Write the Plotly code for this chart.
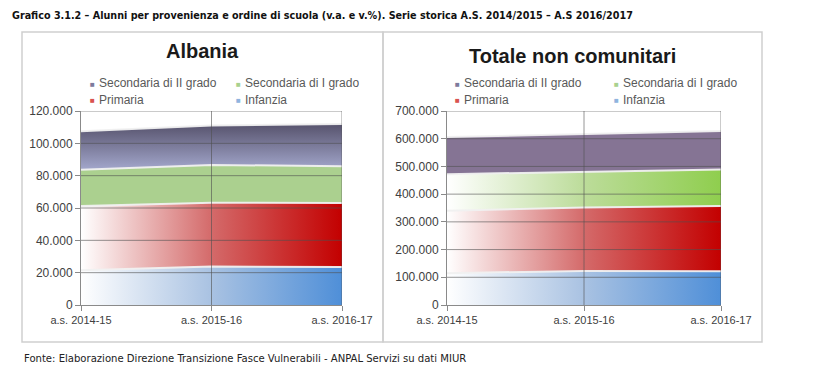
import plotly.graph_objects as go

W, H = 816, 375

categories = ["a.s. 2014-15", "a.s. 2015-16", "a.s. 2016-17"]
series_names = ["Infanzia", "Primaria", "Secondaria di I grado", "Secondaria di II grado"]

albania_infanzia = [21500, 23800, 23500]
albania_primaria = [39700, 39500, 39600]
albania_sec1 = [22400, 23300, 22800]
albania_sec2 = [23900, 24500, 26000]

noncom_infanzia = [115000, 123000, 122000]
noncom_primaria = [225000, 229000, 235000]
noncom_sec1 = [132000, 128000, 132000]
noncom_sec2 = [134000, 136000, 139000]

albania_yticks = [0, 20000, 40000, 60000, 80000, 100000, 120000]
noncom_yticks = [0, 100000, 200000, 300000, 400000, 500000, 600000, 700000]

panel_titles = ["Albania", "Totale non comunitari"]
main_title = ("Grafico 3.1.2 \u2013 Alunni per provenienza e ordine di scuola (v.a. e v.%). "
              "Serie storica A.S. 2014/2015 \u2013 A.S 2016/2017")
source_text = "Fonte: Elaborazione Direzione Transizione Fasce Vulnerabili - ANPAL Servizi su dati MIUR"

legend_order = ["Secondaria di II grado", "Secondaria di I grado", "Primaria", "Infanzia"]
legend_colors = {"Secondaria di II grado": "#7d7b9c", "Secondaria di I grado": "#a9d18e",
                 "Primaria": "#d9534f", "Infanzia": "#8fb4de"}

def px(x):
    return x / W

def py(y):
    return 1 - y / H

xs = list(range(len(categories)))

def hgrad(c_mid, c_end):
    return dict(type="horizontal", colorscale=[[0, "#ffffff"], [0.5, c_mid], [1, c_end]])

fills = {
    "x": {
        "Infanzia": hgrad("#a9c2e2", "#4f8fd8"),
        "Primaria": hgrad("#d46a6a", "#c30000"),
        "Secondaria di I grado": None,
        "Secondaria di II grado": dict(type="vertical", colorscale=[[0, "#a3a7cc"], [1, "#57536d"]]),
    },
    "x2": {
        "Infanzia": hgrad("#a9c2e2", "#4f8fd8"),
        "Primaria": hgrad("#d46a6a", "#c30000"),
        "Secondaria di I grado": hgrad("#bcdc9a", "#8fce4e"),
        "Secondaria di II grado": None,
    },
}
solid = {"x": {"Secondaria di I grado": "#abd08f"}, "x2": {"Secondaria di II grado": "#857494"}}

data_sets = {
    "x": [albania_infanzia, albania_primaria, albania_sec1, albania_sec2],
    "x2": [noncom_infanzia, noncom_primaria, noncom_sec1, noncom_sec2],
}

fig = go.Figure()
for xa, ya, grp in [("x", "y", "a"), ("x2", "y2", "b")]:
    for name, vals in zip(series_names, data_sets[xa]):
        kw = {}
        g = fills[xa][name]
        if g is not None:
            kw["fillgradient"] = g
        else:
            kw["fillcolor"] = solid[xa][name]
        fig.add_trace(go.Scatter(
            x=xs, y=vals, name=name, mode="lines", stackgroup=grp,
            line=dict(color="rgba(240,240,240,0.95)", width=2),
            xaxis=xa, yaxis=ya, showlegend=False, **kw))

L1, R1, L2, R2 = 81, 342, 447, 721
TOP, BOT = 111, 305

xfont = dict(family="Liberation Sans, Arial, sans-serif", size=11, color="#404040")
yfont = dict(family="Liberation Sans, Arial, sans-serif", size=12, color="#404040")
common_x = dict(tickvals=xs, ticktext=categories, range=[0, 2], showgrid=False,
                showline=True, linecolor="#8a8a8a", ticks="outside", ticklen=5,
                tickcolor="#8a8a8a", tickfont=xfont, zeroline=False, fixedrange=True,
                automargin=False)
common_y = dict(showgrid=False, showline=True, linecolor="#8a8a8a", ticks="outside",
                ticklen=5, tickcolor="#8a8a8a", tickfont=yfont, zeroline=False,
                tickformat=",d", fixedrange=True, automargin=False)

fig.update_layout(
    width=W, height=H, autosize=False,
    margin=dict(l=0, r=0, t=0, b=0, pad=0, autoexpand=False),
    paper_bgcolor="white", plot_bgcolor="white", separators=",.",
    xaxis=dict(domain=[px(L1), px(R1)], anchor="y", **common_x),
    yaxis=dict(domain=[py(BOT), py(TOP)], anchor="x", range=[0, 120000],
               tickvals=albania_yticks, **common_y),
    xaxis2=dict(domain=[px(L2), px(R2)], anchor="y2", **common_x),
    yaxis2=dict(domain=[py(BOT), py(TOP)], anchor="x2", range=[0, 700000],
                tickvals=noncom_yticks, **common_y),
    showlegend=False,
)

shapes = []
grid_col = "rgba(80,80,80,0.6)"
for xa, ya, ticks in [("x", "y", albania_yticks), ("x2", "y2", noncom_yticks)]:
    for t in ticks[1:]:
        shapes.append(dict(type="line", xref=f"{xa} domain", yref=ya, x0=0, x1=1, y0=t, y1=t,
                           line=dict(color=grid_col, width=1), layer="above"))
    for i in xs[1:]:
        shapes.append(dict(type="line", xref=xa, yref=f"{ya} domain", x0=i, x1=i, y0=0, y1=1,
                           line=dict(color=grid_col, width=1), layer="above"))

box_col = "#cfcfcf"
for x0, x1 in [(22, 383), (383, 762)]:
    shapes.append(dict(type="rect", xref="paper", yref="paper", x0=px(x0), x1=px(x1),
                       y0=py(342), y1=py(32), line=dict(color=box_col, width=1.5), layer="below"))
fig.update_layout(shapes=shapes)

narrow = "Liberation Sans Narrow, Arial Narrow, DejaVu Sans Condensed, sans-serif"
ann = []
ann.append(dict(text=f"<b>{main_title}</b>", x=px(10), y=py(15), xref="paper", yref="paper",
                xanchor="left", yanchor="middle", showarrow=False,
                font=dict(family=narrow, size=10.7, color="#111111")))
ann.append(dict(text=source_text, x=px(22), y=py(358), xref="paper", yref="paper",
                xanchor="left", yanchor="middle", showarrow=False,
                font=dict(family=narrow, size=11.2, color="#222222")))
for t, cx, cy in [(panel_titles[0], 202, 51), (panel_titles[1], 572, 56)]:
    ann.append(dict(text=f"<b>{t}</b>", x=px(cx), y=py(cy), xref="paper", yref="paper",
                    xanchor="center", yanchor="middle", showarrow=False,
                    font=dict(family="Liberation Sans, Arial, sans-serif", size=20, color="#1a1a1a")))

leg_font = dict(family="Liberation Sans, Arial, sans-serif", size=12, color="#595959")
for cols in [(92, 238), (457, 616)]:
    for k, name in enumerate(legend_order):
        cx = cols[k % 2]
        cy = 83 if k < 2 else 100
        ann.append(dict(text="\u25A0", x=px(cx), y=py(cy), xref="paper", yref="paper",
                        xanchor="center", yanchor="middle", showarrow=False,
                        font=dict(size=8, color=legend_colors[name])))
        ann.append(dict(text=name, x=px(cx + 5), y=py(cy), xref="paper", yref="paper",
                        xanchor="left", yanchor="middle", showarrow=False, font=leg_font))
fig.update_layout(annotations=ann)

fig.write_html("out.html", config={"displayModeBar": False},
               post_script="document.body.style.margin='0px';document.body.style.overflow='hidden';")
